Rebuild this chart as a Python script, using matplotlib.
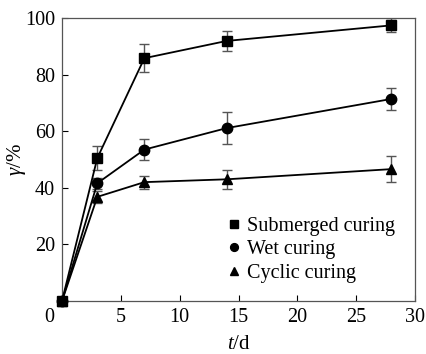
import matplotlib
matplotlib.use("Agg")
import matplotlib.pyplot as plt

plt.rcParams['font.family'] = ['Liberation Serif', 'DejaVu Serif']
plt.rcParams['mathtext.fontset'] = 'custom'
plt.rcParams['mathtext.rm'] = 'Liberation Serif'
plt.rcParams['mathtext.it'] = 'Liberation Serif:italic'

t = [0, 3, 7, 14, 28]
submerged = [0, 50.5, 85.8, 91.9, 97.4]
submerged_err = [0, 4.3, 5.0, 3.5, 2.5]
wet = [0, 41.6, 53.5, 61.1, 71.4]
wet_err = [0, 2.0, 3.7, 5.7, 4.0]
cyclic = [0, 36.8, 42.0, 43.0, 46.6]
cyclic_err = [0, 2.0, 2.3, 3.3, 4.7]
labels = ["Submerged curing", "Wet curing", "Cyclic curing"]
markers = ["s", "o", "^"]
xticks = [0, 5, 10, 15, 20, 25, 30]
yticks = [20, 40, 60, 80, 100]

fig = plt.figure(figsize=(4.26, 3.54), dpi=100)
ax = fig.add_axes([62/426, 1-301/354, (415-62)/426, (301-18)/354])

for y, e, m, lab in zip([submerged, wet, cyclic], [submerged_err, wet_err, cyclic_err], markers, labels):
    ax.errorbar(t, y, yerr=e, fmt='none', ecolor='#555555', elinewidth=1.0, capsize=3.5, capthick=1.0, zorder=2)
    ax.plot(t, y, color='black', lw=1.3, zorder=3, clip_on=False)
    ax.plot(t, y, linestyle='none', marker=m, color='black', markersize=7.5, zorder=4, label=lab, clip_on=False)

ax.set_xlim(0, 30)
ax.set_ylim(0, 100)
ax.set_xticks(xticks)
ax.set_xticklabels([''] + [str(v) for v in xticks[1:]])
ax.set_yticks(yticks)
ax.tick_params(direction='in', length=4, width=0.8, labelsize=14.5, colors='black', pad=5)
for s in ax.spines.values():
    s.set_color('#555555')
    s.set_linewidth(0.9)

ax.annotate(str(xticks[0]), xy=(0, 0), xycoords='axes fraction', xytext=(-9.5, -5),
            textcoords='offset points', ha='center', va='top', fontsize=14.5)

ax.set_xlabel(r'$\mathit{t}$/d', fontsize=15, labelpad=6)
ax.set_ylabel(r'$\mathit{\gamma}$/%', fontsize=15, labelpad=-2)

leg = ax.legend(loc='lower right', bbox_to_anchor=(0.995, 0.0), frameon=False, fontsize=14.5,
                handlelength=0.5, handletextpad=0.4, labelspacing=0.22, markerscale=0.75)

fig.savefig("out.png", dpi=100)
